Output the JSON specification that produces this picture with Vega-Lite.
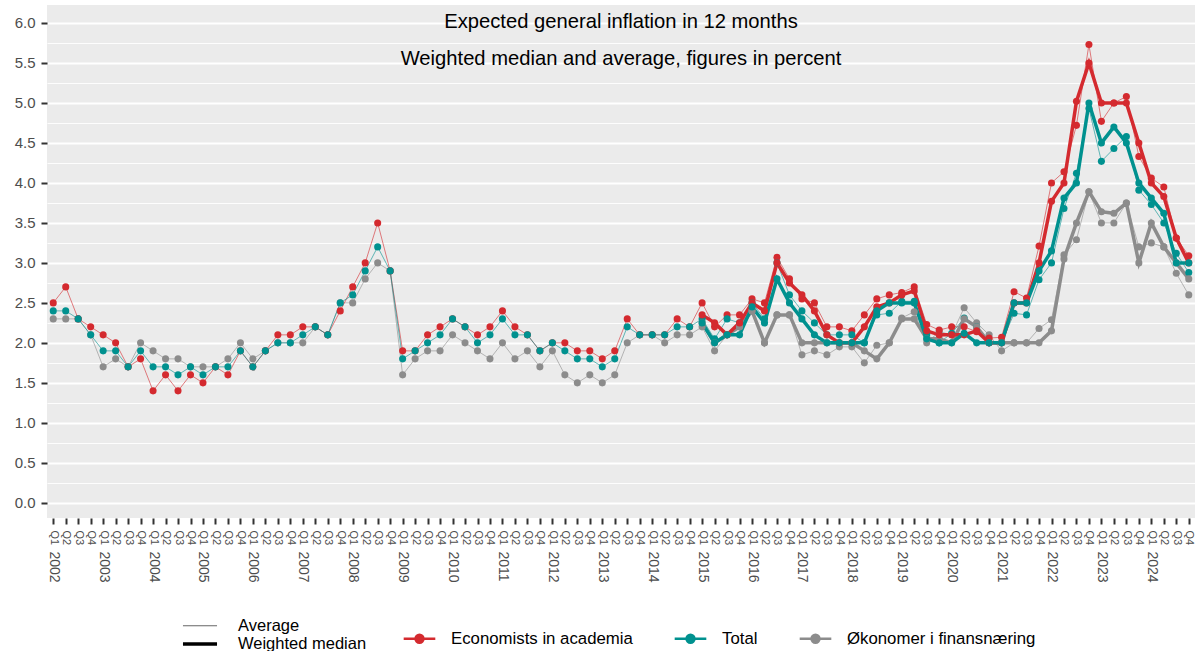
{
  "$schema": "https://vega.github.io/schema/vega-lite/v6.json",
  "width": 1148,
  "height": 513,
  "autosize": {"type": "none"},
  "padding": {"left": 47, "top": 5, "right": 5, "bottom": 133},
  "background": "white",
  "config": {
    "font": "Liberation Sans",
    "view": {"stroke": null, "fill": "#ebebeb"},
    "axis": {"domain": false, "titleFontSize": 14}
  },
  "title": {
    "text": "Expected general inflation in 12 months",
    "subtitle": "Weighted median and average, figures in percent",
    "anchor": "middle",
    "frame": "group",
    "offset": -64,
    "font": "Liberation Sans",
    "subtitleFont": "Liberation Sans",
    "fontSize": 20.2,
    "fontWeight": "normal",
    "color": "black",
    "subtitleFontSize": 20.2,
    "subtitleColor": "black",
    "subtitlePadding": 17
  },
  "data": {
    "values": [
      {"p": "2002-Q1", "type": "Average", "A": 2.5, "T": 2.4, "F": 2.3},
      {"p": "2002-Q2", "type": "Average", "A": 2.7, "T": 2.4, "F": 2.3},
      {"p": "2002-Q3", "type": "Average", "A": 2.3, "T": 2.3, "F": 2.3},
      {"p": "2002-Q4", "type": "Average", "A": 2.2, "T": 2.1, "F": 2.1},
      {"p": "2003-Q1", "type": "Average", "A": 2.1, "T": 1.9, "F": 1.7},
      {"p": "2003-Q2", "type": "Average", "A": 2.0, "T": 1.9, "F": 1.8},
      {"p": "2003-Q3", "type": "Average", "A": 1.7, "T": 1.7, "F": 1.7},
      {"p": "2003-Q4", "type": "Average", "A": 1.8, "T": 1.9, "F": 2.0},
      {"p": "2004-Q1", "type": "Average", "A": 1.4, "T": 1.7, "F": 1.9},
      {"p": "2004-Q2", "type": "Average", "A": 1.6, "T": 1.7, "F": 1.8},
      {"p": "2004-Q3", "type": "Average", "A": 1.4, "T": 1.6, "F": 1.8},
      {"p": "2004-Q4", "type": "Average", "A": 1.6, "T": 1.7, "F": 1.7},
      {"p": "2005-Q1", "type": "Average", "A": 1.5, "T": 1.6, "F": 1.7},
      {"p": "2005-Q2", "type": "Average", "A": 1.7, "T": 1.7, "F": 1.7},
      {"p": "2005-Q3", "type": "Average", "A": 1.6, "T": 1.7, "F": 1.8},
      {"p": "2005-Q4", "type": "Average", "A": 1.9, "T": 1.9, "F": 2.0},
      {"p": "2006-Q1", "type": "Average", "A": 1.7, "T": 1.7, "F": 1.8},
      {"p": "2006-Q2", "type": "Average", "A": 1.9, "T": 1.9, "F": 1.9},
      {"p": "2006-Q3", "type": "Average", "A": 2.1, "T": 2.0, "F": 2.0},
      {"p": "2006-Q4", "type": "Average", "A": 2.1, "T": 2.0, "F": 2.0},
      {"p": "2007-Q1", "type": "Average", "A": 2.2, "T": 2.1, "F": 2.0},
      {"p": "2007-Q2", "type": "Average", "A": 2.2, "T": 2.2, "F": 2.2},
      {"p": "2007-Q3", "type": "Average", "A": 2.1, "T": 2.1, "F": 2.1},
      {"p": "2007-Q4", "type": "Average", "A": 2.4, "T": 2.5, "F": 2.5},
      {"p": "2008-Q1", "type": "Average", "A": 2.7, "T": 2.6, "F": 2.5},
      {"p": "2008-Q2", "type": "Average", "A": 3.0, "T": 2.9, "F": 2.8},
      {"p": "2008-Q3", "type": "Average", "A": 3.5, "T": 3.2, "F": 3.0},
      {"p": "2008-Q4", "type": "Average", "A": 2.9, "T": 2.9, "F": 2.9},
      {"p": "2009-Q1", "type": "Average", "A": 1.9, "T": 1.8, "F": 1.6},
      {"p": "2009-Q2", "type": "Average", "A": 1.9, "T": 1.9, "F": 1.8},
      {"p": "2009-Q3", "type": "Average", "A": 2.1, "T": 2.0, "F": 1.9},
      {"p": "2009-Q4", "type": "Average", "A": 2.2, "T": 2.1, "F": 1.9},
      {"p": "2010-Q1", "type": "Average", "A": 2.3, "T": 2.3, "F": 2.1},
      {"p": "2010-Q2", "type": "Average", "A": 2.2, "T": 2.2, "F": 2.0},
      {"p": "2010-Q3", "type": "Average", "A": 2.1, "T": 2.0, "F": 1.9},
      {"p": "2010-Q4", "type": "Average", "A": 2.2, "T": 2.1, "F": 1.8},
      {"p": "2011-Q1", "type": "Average", "A": 2.4, "T": 2.3, "F": 2.0},
      {"p": "2011-Q2", "type": "Average", "A": 2.2, "T": 2.1, "F": 1.8},
      {"p": "2011-Q3", "type": "Average", "A": 2.1, "T": 2.1, "F": 1.9},
      {"p": "2011-Q4", "type": "Average", "A": 1.9, "T": 1.9, "F": 1.7},
      {"p": "2012-Q1", "type": "Average", "A": 2.0, "T": 2.0, "F": 1.9},
      {"p": "2012-Q2", "type": "Average", "A": 2.0, "T": 1.9, "F": 1.6},
      {"p": "2012-Q3", "type": "Average", "A": 1.9, "T": 1.8, "F": 1.5},
      {"p": "2012-Q4", "type": "Average", "A": 1.9, "T": 1.8, "F": 1.6},
      {"p": "2013-Q1", "type": "Average", "A": 1.8, "T": 1.7, "F": 1.5},
      {"p": "2013-Q2", "type": "Average", "A": 1.9, "T": 1.8, "F": 1.6},
      {"p": "2013-Q3", "type": "Average", "A": 2.3, "T": 2.2, "F": 2.0},
      {"p": "2013-Q4", "type": "Average", "A": 2.1, "T": 2.1, "F": 2.1},
      {"p": "2014-Q1", "type": "Average", "A": 2.1, "T": 2.1, "F": 2.1},
      {"p": "2014-Q2", "type": "Average", "A": 2.1, "T": 2.1, "F": 2.0},
      {"p": "2014-Q3", "type": "Average", "A": 2.3, "T": 2.2, "F": 2.1},
      {"p": "2014-Q4", "type": "Average", "A": 2.2, "T": 2.2, "F": 2.1},
      {"p": "2015-Q1", "type": "Average", "A": 2.5, "T": 2.3, "F": 2.2},
      {"p": "2015-Q2", "type": "Average", "A": 2.2, "T": 2.05, "F": 1.9},
      {"p": "2015-Q3", "type": "Average", "A": 2.35, "T": 2.3, "F": 2.1},
      {"p": "2015-Q4", "type": "Average", "A": 2.35, "T": 2.25, "F": 2.2},
      {"p": "2016-Q1", "type": "Average", "A": 2.55, "T": 2.5, "F": 2.4},
      {"p": "2016-Q2", "type": "Average", "A": 2.5, "T": 2.3, "F": 2.0},
      {"p": "2016-Q3", "type": "Average", "A": 3.07, "T": 3.0, "F": 2.35},
      {"p": "2016-Q4", "type": "Average", "A": 2.8, "T": 2.6, "F": 2.35},
      {"p": "2017-Q1", "type": "Average", "A": 2.55, "T": 2.4, "F": 1.85},
      {"p": "2017-Q2", "type": "Average", "A": 2.5, "T": 2.25, "F": 1.9},
      {"p": "2017-Q3", "type": "Average", "A": 2.2, "T": 2.1, "F": 1.85},
      {"p": "2017-Q4", "type": "Average", "A": 2.2, "T": 2.1, "F": 1.95},
      {"p": "2018-Q1", "type": "Average", "A": 2.15, "T": 2.1, "F": 1.95},
      {"p": "2018-Q2", "type": "Average", "A": 2.35, "T": 2.0, "F": 1.75},
      {"p": "2018-Q3", "type": "Average", "A": 2.55, "T": 2.35, "F": 1.97},
      {"p": "2018-Q4", "type": "Average", "A": 2.6, "T": 2.37, "F": 2.0},
      {"p": "2019-Q1", "type": "Average", "A": 2.63, "T": 2.52, "F": 2.31},
      {"p": "2019-Q2", "type": "Average", "A": 2.7, "T": 2.52, "F": 2.39},
      {"p": "2019-Q3", "type": "Average", "A": 2.23, "T": 2.1, "F": 2.0},
      {"p": "2019-Q4", "type": "Average", "A": 2.16, "T": 2.0, "F": 2.14},
      {"p": "2020-Q1", "type": "Average", "A": 2.2, "T": 2.12, "F": 2.1},
      {"p": "2020-Q2", "type": "Average", "A": 2.2, "T": 2.31, "F": 2.44},
      {"p": "2020-Q3", "type": "Average", "A": 2.14, "T": 2.2, "F": 2.25},
      {"p": "2020-Q4", "type": "Average", "A": 2.06, "T": 2.0, "F": 2.1},
      {"p": "2021-Q1", "type": "Average", "A": 2.07, "T": 2.0, "F": 1.9},
      {"p": "2021-Q2", "type": "Average", "A": 2.64, "T": 2.37, "F": 2.0},
      {"p": "2021-Q3", "type": "Average", "A": 2.56, "T": 2.35, "F": 2.0},
      {"p": "2021-Q4", "type": "Average", "A": 3.21, "T": 2.79, "F": 2.18},
      {"p": "2022-Q1", "type": "Average", "A": 4.0, "T": 3.0, "F": 2.29},
      {"p": "2022-Q2", "type": "Average", "A": 4.14, "T": 3.68, "F": 3.1},
      {"p": "2022-Q3", "type": "Average", "A": 4.72, "T": 4.12, "F": 3.29},
      {"p": "2022-Q4", "type": "Average", "A": 5.73, "T": 4.93, "F": 3.89},
      {"p": "2023-Q1", "type": "Average", "A": 4.77, "T": 4.27, "F": 3.5},
      {"p": "2023-Q2", "type": "Average", "A": 5.0, "T": 4.43, "F": 3.5},
      {"p": "2023-Q3", "type": "Average", "A": 5.08, "T": 4.58, "F": 3.75},
      {"p": "2023-Q4", "type": "Average", "A": 4.33, "T": 3.91, "F": 3.2},
      {"p": "2024-Q1", "type": "Average", "A": 4.06, "T": 3.73, "F": 3.25},
      {"p": "2024-Q2", "type": "Average", "A": 3.95, "T": 3.5, "F": 3.2},
      {"p": "2024-Q3", "type": "Average", "A": 3.31, "T": 3.12, "F": 2.87},
      {"p": "2024-Q4", "type": "Average", "A": 3.09, "T": 2.88, "F": 2.6},
      {"p": "2015-Q1", "type": "Weighted median", "A": 2.35, "T": 2.25, "F": 2.25},
      {"p": "2015-Q2", "type": "Weighted median", "A": 2.25, "T": 2.0, "F": 2.0},
      {"p": "2015-Q3", "type": "Weighted median", "A": 2.1, "T": 2.1, "F": 2.1},
      {"p": "2015-Q4", "type": "Weighted median", "A": 2.25, "T": 2.1, "F": 2.2},
      {"p": "2016-Q1", "type": "Weighted median", "A": 2.5, "T": 2.45, "F": 2.4},
      {"p": "2016-Q2", "type": "Weighted median", "A": 2.4, "T": 2.25, "F": 2.0},
      {"p": "2016-Q3", "type": "Weighted median", "A": 3.0, "T": 2.8, "F": 2.35},
      {"p": "2016-Q4", "type": "Weighted median", "A": 2.75, "T": 2.5, "F": 2.35},
      {"p": "2017-Q1", "type": "Weighted median", "A": 2.6, "T": 2.3, "F": 2.0},
      {"p": "2017-Q2", "type": "Weighted median", "A": 2.4, "T": 2.1, "F": 2.0},
      {"p": "2017-Q3", "type": "Weighted median", "A": 2.1, "T": 2.0, "F": 2.0},
      {"p": "2017-Q4", "type": "Weighted median", "A": 2.0, "T": 2.0, "F": 2.0},
      {"p": "2018-Q1", "type": "Weighted median", "A": 2.0, "T": 2.0, "F": 2.0},
      {"p": "2018-Q2", "type": "Weighted median", "A": 2.2, "T": 2.0, "F": 1.9},
      {"p": "2018-Q3", "type": "Weighted median", "A": 2.45, "T": 2.4, "F": 1.8},
      {"p": "2018-Q4", "type": "Weighted median", "A": 2.5, "T": 2.5, "F": 2.0},
      {"p": "2019-Q1", "type": "Weighted median", "A": 2.6, "T": 2.5, "F": 2.3},
      {"p": "2019-Q2", "type": "Weighted median", "A": 2.65, "T": 2.5, "F": 2.3},
      {"p": "2019-Q3", "type": "Weighted median", "A": 2.15, "T": 2.05, "F": 2.05},
      {"p": "2019-Q4", "type": "Weighted median", "A": 2.1, "T": 2.0, "F": 2.05},
      {"p": "2020-Q1", "type": "Weighted median", "A": 2.1, "T": 2.0, "F": 2.0},
      {"p": "2020-Q2", "type": "Weighted median", "A": 2.1, "T": 2.12, "F": 2.3},
      {"p": "2020-Q3", "type": "Weighted median", "A": 2.15, "T": 2.0, "F": 2.2},
      {"p": "2020-Q4", "type": "Weighted median", "A": 2.0, "T": 2.0, "F": 2.0},
      {"p": "2021-Q1", "type": "Weighted median", "A": 2.0, "T": 2.0, "F": 2.0},
      {"p": "2021-Q2", "type": "Weighted median", "A": 2.5, "T": 2.5, "F": 2.0},
      {"p": "2021-Q3", "type": "Weighted median", "A": 2.5, "T": 2.5, "F": 2.0},
      {"p": "2021-Q4", "type": "Weighted median", "A": 3.0, "T": 2.9, "F": 2.0},
      {"p": "2022-Q1", "type": "Weighted median", "A": 3.77, "T": 3.15, "F": 2.15},
      {"p": "2022-Q2", "type": "Weighted median", "A": 4.0, "T": 3.81, "F": 3.05},
      {"p": "2022-Q3", "type": "Weighted median", "A": 5.02, "T": 4.0, "F": 3.5},
      {"p": "2022-Q4", "type": "Weighted median", "A": 5.5, "T": 5.0, "F": 3.89},
      {"p": "2023-Q1", "type": "Weighted median", "A": 5.0, "T": 4.5, "F": 3.64},
      {"p": "2023-Q2", "type": "Weighted median", "A": 5.0, "T": 4.7, "F": 3.62},
      {"p": "2023-Q3", "type": "Weighted median", "A": 5.0, "T": 4.5, "F": 3.75},
      {"p": "2023-Q4", "type": "Weighted median", "A": 4.5, "T": 4.0, "F": 3.0},
      {"p": "2024-Q1", "type": "Weighted median", "A": 4.0, "T": 3.81, "F": 3.5},
      {"p": "2024-Q2", "type": "Weighted median", "A": 3.83, "T": 3.62, "F": 3.2},
      {"p": "2024-Q3", "type": "Weighted median", "A": 3.31, "T": 3.0, "F": 3.0},
      {"p": "2024-Q4", "type": "Weighted median", "A": 3.0, "T": 3.0, "F": 2.8}
    ]
  },
  "transform": [{"fold": ["F", "A", "T"], "as": ["group", "value"]}],
  "resolve": {"axis": {"x": "independent"}},
  "encoding": {
    "x": {
      "field": "p",
      "type": "ordinal",
      "scale": {"type": "point", "padding": 0.5},
      "axis": {
        "orient": "bottom",
        "title": null,
        "labelAngle": 90,
        "labelFontSize": 11,
        "labelColor": "#4d4d4d",
        "labelOverlap": false,
        "labelBound": false,
        "labelPadding": 6,
        "tickSize": 6,
        "tickWidth": 2,
        "tickColor": "#333333",
        "grid": false,
        "labelExpr": "slice(datum.value, 5)"
      }
    },
    "y": {
      "field": "value",
      "type": "quantitative",
      "scale": {"domain": [-0.19, 6.225], "nice": false, "zero": false},
      "axis": {
        "title": null,
        "values": [0, 0.25, 0.5, 0.75, 1, 1.25, 1.5, 1.75, 2, 2.25, 2.5, 2.75, 3, 3.25, 3.5, 3.75, 4, 4.25, 4.5, 4.75, 5, 5.25, 5.5, 5.75, 6],
        "labelExpr": "datum.value % 0.5 == 0 ? format(datum.value, '.1f') : ''",
        "labelFontSize": 15,
        "labelColor": "#4d4d4d",
        "labelPadding": 6,
        "tickSize": 6,
        "tickColor": "#333333",
        "tickWidth": 2,
        "tickOpacity": {"condition": {"test": "datum.value % 0.5 == 0", "value": 1}, "value": 0},
        "grid": true,
        "gridColor": "white",
        "gridWidth": {"condition": {"test": "datum.value % 0.5 == 0", "value": 1.8}, "value": 0.9}
      }
    },
    "color": {
      "field": "group",
      "type": "nominal",
      "scale": {"domain": ["A", "T", "F"], "range": ["#d42a2f", "#00918f", "#8c8c8c"]},
      "legend": {
        "title": null,
        "orient": "none",
        "legendX": 355,
        "legendY": 616,
        "direction": "horizontal",
        "symbolType": "M-1,0L1,0M0.25,0A0.25,0.25,0,1,1,-0.25,0A0.25,0.25,0,1,1,0.25,0Z",
        "symbolSize": 1000,
        "symbolStrokeWidth": 2.5,
        "labelFontSize": 16.8,
        "labelLimit": 0,
        "labelColor": "black",
        "labelOffset": 14,
        "columnPadding": 36,
        "labelExpr": "datum.value == 'A' ? 'Economists in academia' : datum.value == 'T' ? 'Total' : 'Økonomer i finansnæring'",
        "encode": {
          "symbols": {
            "update": {
              "fill": {"scale": "color", "field": "value"},
              "stroke": {"scale": "color", "field": "value"},
              "opacity": {"value": 1}
            }
          }
        }
      }
    }
  },
  "layer": [
    {
      "mark": {"type": "line"},
      "encoding": {
        "strokeWidth": {
          "field": "type",
          "type": "nominal",
          "scale": {"domain": ["Average", "Weighted median"], "range": [1, 3.5]},
          "legend": {
            "title": null,
            "orient": "none",
            "legendX": 143.5,
            "legendY": 612.5,
            "direction": "vertical",
            "symbolType": "M-2.27,0L2.27,0",
            "symbolSize": 225,
            "symbolStrokeColor": "black",
            "labelFontSize": 16.5,
            "labelLimit": 0,
            "labelColor": "black",
            "labelOffset": 28.5,
            "rowPadding": 0,
            "encode": {
              "symbols": {
                "update": {
                  "stroke": {"value": "black"},
                  "opacity": {"value": 1},
                  "strokeOpacity": {"value": 1}
                }
              }
            }
          }
        },
        "opacity": {
          "field": "type",
          "type": "nominal",
          "scale": {"domain": ["Average", "Weighted median"], "range": [0.6, 1]},
          "legend": null
        }
      }
    },
    {
      "mark": {"type": "point", "filled": true, "size": 50, "opacity": 1},
      "encoding": {
        "x": {
          "field": "p",
          "type": "ordinal",
          "scale": {"type": "point", "padding": 0.5},
          "axis": {
            "orient": "bottom",
            "title": null,
            "labelAngle": 90,
            "labelFontSize": 14,
            "labelColor": "#4d4d4d",
            "labelOverlap": false,
            "labelBound": false,
            "labelPadding": 27,
            "tickSize": 6,
            "tickOpacity": 0,
            "grid": false,
            "labelExpr": "slice(datum.value, 5) == 'Q1' ? slice(datum.value, 0, 4) : ''"
          }
        }
      }
    }
  ]
}
